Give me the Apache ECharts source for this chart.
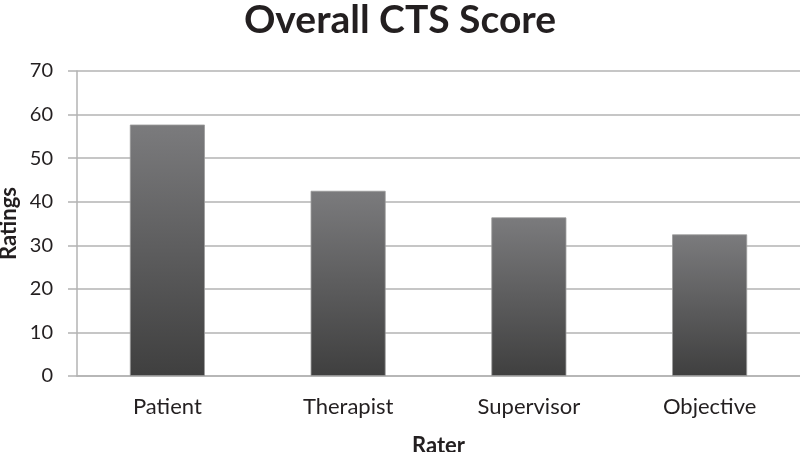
<!DOCTYPE html>
<html><head><meta charset="utf-8">
<script src="https://cdn.jsdelivr.net/npm/echarts@6/dist/echarts.min.js"></script>
<style>html,body{margin:0;padding:0;background:#fff}#c{width:800px;height:452px}</style>
</head><body><div id="c"></div>
<script>
const categories = ['Patient', 'Therapist', 'Supervisor', 'Objective'];
const ratings = [57.7, 42.5, 36.4, 32.5];
const yTicks = [0, 10, 20, 30, 40, 50, 60, 70];

const font = 'Lato, "Open Sans", sans-serif';
const chart = echarts.init(document.getElementById('c'));
chart.setOption({
  animation: false,
  title: {
    text: 'Overall CTS Score', left: 'center', top: -4,
    textStyle: { fontFamily: font, fontWeight: 'bold', fontSize: 39, color: '#231f20' }
  },
  grid: { left: 77, right: 0, top: 71, bottom: 76, containLabel: false, outerBoundsMode: 'none' },
  xAxis: {
    type: 'category', data: categories,
    name: 'Rater', nameLocation: 'middle', nameGap: 59, nameMoveOverlap: false,
    nameTextStyle: { fontFamily: font, fontWeight: 'bold', fontSize: 22, color: '#231f20' },
    axisLine: { lineStyle: { color: '#b3b3b3', width: 1.5 } },
    axisTick: { show: false },
    axisLabel: { fontFamily: font, fontSize: 22, color: '#231f20', margin: 20 }
  },
  yAxis: {
    type: 'value', min: yTicks[0], max: yTicks[yTicks.length - 1], interval: 10,
    name: 'Ratings', nameLocation: 'middle', nameGap: 57, nameMoveOverlap: false,
    nameTextStyle: { fontFamily: font, fontWeight: 'bold', fontSize: 22, color: '#231f20' },
    axisLine: { show: true, lineStyle: { color: '#b3b3b3', width: 1.5 } },
    axisTick: { show: true, length: 9, lineStyle: { color: '#b3b3b3', width: 1.5 } },
    axisLabel: { fontFamily: font, fontSize: 20, color: '#231f20', margin: 24 },
    splitLine: { lineStyle: { color: '#b3b3b3', width: 1.5 } }
  },
  series: [{
    type: 'bar', data: ratings, barWidth: 75,
    itemStyle: {
      borderColor: '#9a9a9a', borderWidth: 0.8,
      color: new echarts.graphic.LinearGradient(0, 0, 0, 1, [
        { offset: 0, color: '#7b7b7d' },
        { offset: 1, color: '#3f3f3f' }
      ])
    }
  }]
});
</script></body></html>
